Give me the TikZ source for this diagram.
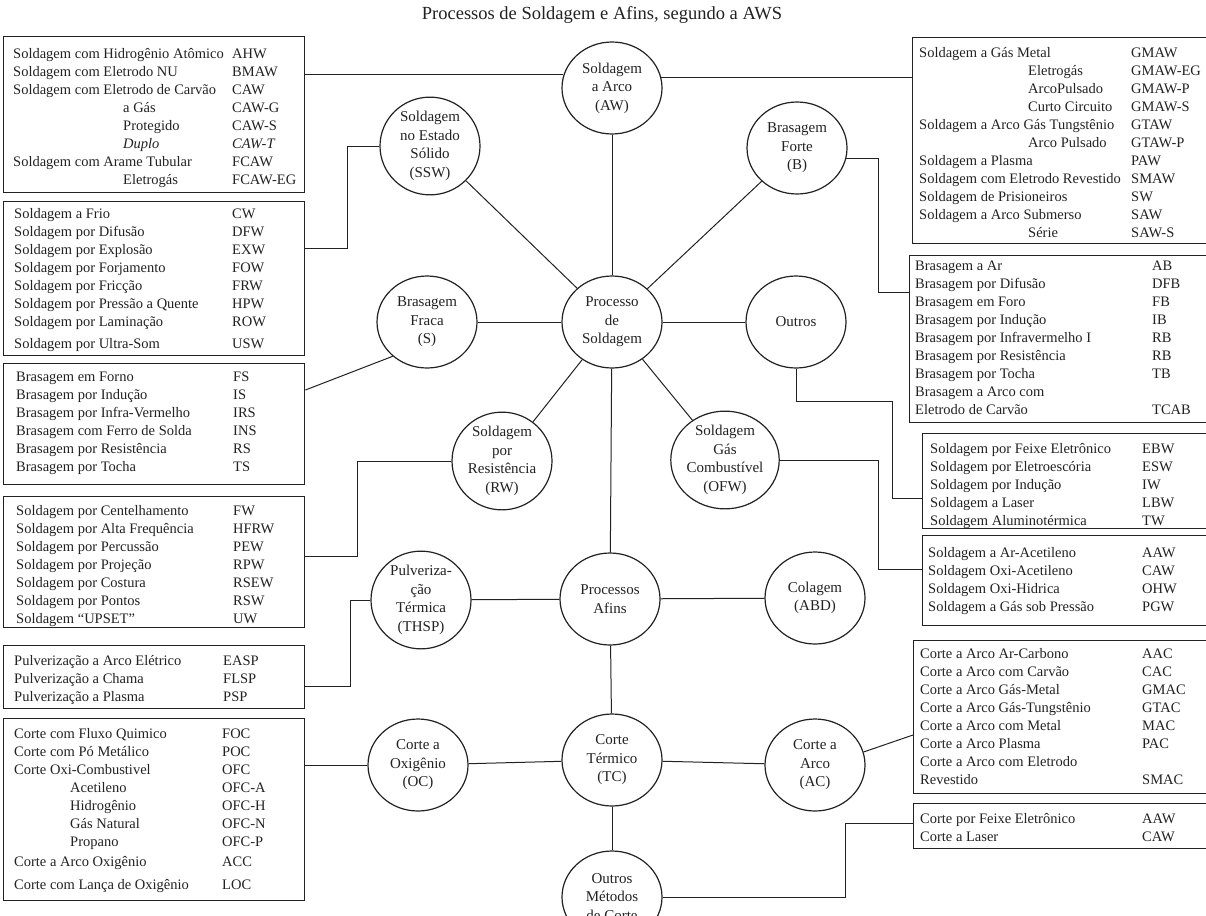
\documentclass[tikz,border=0pt]{standalone}
\usepackage{fontspec}
\setmainfont{Liberation Serif}
\usetikzlibrary{shapes.geometric}
\definecolor{ink}{HTML}{222222}
\newcommand\boxfont{\fontsize{14.5}{18}\selectfont}
\newcommand\circfont{\fontsize{15}{18.5}\selectfont}
\newcommand\ent[3]{\strut\makebox[#1pt][l]{#2}#3}
\begin{document}
\begin{tikzpicture}[x=1pt,y=-1pt,
  bx/.style={draw=ink, line width=1.4pt, inner sep=0pt, anchor=north west},
  tx/.style={anchor=north west, inner sep=0pt, align=left, font=\boxfont, text=ink},
  circ/.style={ellipse, draw=ink, line width=1.2pt, minimum width=100pt, minimum height=92pt, inner sep=0pt, align=center, font=\circfont, text=ink},
  ln/.style={draw=ink, line width=1pt}]
\useasboundingbox (0,0) rectangle (1206,915);
\fill[white] (0,0) rectangle (1206,915);

\node[font=\fontsize{18.5}{22}\selectfont, text=ink] (title) at (602,15) {Processos de Soldagem e Afins, segundo a AWS};

% ---------- left boxes ----------
\node[bx, minimum width=301pt, minimum height=156pt] (L1) at (3,36) {};
\node[tx] (L1t) at (13,45.4) {%
\ent{219}{Soldagem com Hidrogênio Atômico}{AHW}\\
\ent{219}{Soldagem com Eletrodo NU}{BMAW}\\
\ent{219}{Soldagem com Eletrodo de Carvão}{CAW}\\
\ent{219}{\hspace*{110pt}a Gás}{CAW-G}\\
\ent{219}{\hspace*{110pt}Protegido}{CAW-S}\\
\ent{219}{\hspace*{110pt}\textit{Duplo}}{\textit{CAW-T}}\\
\ent{219}{Soldagem com Arame Tubular}{FCAW}\\
\ent{219}{\hspace*{110pt}Eletrogás}{FCAW-EG}};

\node[bx, minimum width=301pt, minimum height=154pt] (L2) at (3,201) {};
\node[tx] (L2t) at (14,205.4) {%
\ent{218}{Soldagem a Frio}{CW}\\
\ent{218}{Soldagem por Difusão}{DFW}\\
\ent{218}{Soldagem por Explosão}{EXW}\\
\ent{218}{Soldagem por Forjamento}{FOW}\\
\ent{218}{Soldagem por Fricção}{FRW}\\
\ent{218}{Soldagem por Pressão a Quente}{HPW}\\
\ent{218}{Soldagem por Laminação}{ROW}\\[4pt]
\ent{218}{Soldagem por Ultra-Som}{USW}};

\node[bx, minimum width=301pt, minimum height=121pt] (L3) at (3,363) {};
\node[tx] (L3t) at (16,368.4) {%
\ent{217}{Brasagem em Forno}{FS}\\
\ent{217}{Brasagem por Indução}{IS}\\
\ent{217}{Brasagem por Infra-Vermelho}{IRS}\\
\ent{217}{Brasagem com Ferro de Solda}{INS}\\
\ent{217}{Brasagem por Resistência}{RS}\\
\ent{217}{Brasagem por Tocha}{TS}};

\node[bx, minimum width=301pt, minimum height=131pt] (L4) at (3,496) {};
\node[tx] (L4t) at (16,502.4) {%
\ent{217}{Soldagem por Centelhamento}{FW}\\
\ent{217}{Soldagem por Alta Frequência}{HFRW}\\
\ent{217}{Soldagem por Percussão}{PEW}\\
\ent{217}{Soldagem por Projeção}{RPW}\\
\ent{217}{Soldagem por Costura}{RSEW}\\
\ent{217}{Soldagem por Pontos}{RSW}\\
\ent{217}{Soldagem “UPSET”}{UW}};

\node[bx, minimum width=301pt, minimum height=63pt] (L5) at (3,645) {};
\node[tx] (L5t) at (14,652.4) {%
\ent{209}{Pulverização a Arco Elétrico}{EASP}\\
\ent{209}{Pulverização a Chama}{FLSP}\\
\ent{209}{Pulverização a Plasma}{PSP}};

\node[bx, minimum width=301pt, minimum height=182pt] (L6) at (3,718) {};
\node[tx] (L6t) at (14,725.4) {%
\ent{208}{Corte com Fluxo Quimico}{FOC}\\
\ent{208}{Corte com Pó Metálico}{POC}\\
\ent{208}{Corte Oxi-Combustivel}{OFC}\\
\ent{208}{\hspace*{56pt}Acetileno}{OFC-A}\\
\ent{208}{\hspace*{56pt}Hidrogênio}{OFC-H}\\
\ent{208}{\hspace*{56pt}Gás Natural}{OFC-N}\\
\ent{208}{\hspace*{56pt}Propano}{OFC-P}\\[2pt]
\ent{208}{Corte a Arco Oxigênio}{ACC}\\[5pt]
\ent{208}{Corte com Lança de Oxigênio}{LOC}};

% ---------- right boxes ----------
\node[bx, minimum width=300pt, minimum height=206pt] (R1) at (912,37) {};
\node[tx] (R1t) at (919,44.4) {%
\ent{212}{Soldagem a Gás Metal}{GMAW}\\
\ent{212}{\hspace*{109pt}Eletrogás}{GMAW-EG}\\
\ent{212}{\hspace*{109pt}ArcoPulsado}{GMAW-P}\\
\ent{212}{\hspace*{109pt}Curto Circuito}{GMAW-S}\\
\ent{212}{Soldagem a Arco Gás Tungstênio}{GTAW}\\
\ent{212}{\hspace*{109pt}Arco Pulsado}{GTAW-P}\\
\ent{212}{Soldagem a Plasma}{PAW}\\
\ent{212}{Soldagem com Eletrodo Revestido}{SMAW}\\
\ent{212}{Soldagem de Prisioneiros}{SW}\\
\ent{212}{Soldagem a Arco Submerso}{SAW}\\
\ent{212}{\hspace*{109pt}Série}{SAW-S}};

\node[bx, minimum width=300pt, minimum height=167pt] (R2) at (909,255) {};
\node[tx] (R2t) at (915,257.4) {%
\ent{237}{Brasagem a Ar}{AB}\\
\ent{237}{Brasagem por Difusão}{DFB}\\
\ent{237}{Brasagem em Foro}{FB}\\
\ent{237}{Brasagem por Indução}{IB}\\
\ent{237}{Brasagem por Infravermelho I}{RB}\\
\ent{237}{Brasagem por Resistência}{RB}\\
\ent{237}{Brasagem por Tocha}{TB}\\
\ent{237}{Brasagem a Arco com}{}\\
\ent{237}{Eletrodo de Carvão}{TCAB}};

\node[bx, minimum width=290pt, minimum height=95pt] (R3) at (922,433) {};
\node[tx] (R3t) at (930,440.4) {%
\ent{212}{Soldagem por Feixe Eletrônico}{EBW}\\
\ent{212}{Soldagem por Eletroescória}{ESW}\\
\ent{212}{Soldagem por Indução}{IW}\\
\ent{212}{Soldagem a Laser}{LBW}\\
\ent{212}{Soldagem Aluminotérmica}{TW}};

\node[bx, minimum width=290pt, minimum height=90pt] (R4) at (922,535) {};
\node[tx] (R4t) at (928,544.4) {%
\ent{214}{Soldagem a Ar-Acetileno}{AAW}\\
\ent{214}{Soldagem Oxi-Acetileno}{CAW}\\
\ent{214}{Soldagem Oxi-Hidrica}{OHW}\\
\ent{214}{Soldagem a Gás sob Pressão}{PGW}};

\node[bx, minimum width=300pt, minimum height=153pt] (R5) at (913,640) {};
\node[tx] (R5t) at (920,645.4) {%
\ent{222}{Corte a Arco Ar-Carbono}{AAC}\\
\ent{222}{Corte a Arco com Carvão}{CAC}\\
\ent{222}{Corte a Arco Gás-Metal}{GMAC}\\
\ent{222}{Corte a Arco Gás-Tungstênio}{GTAC}\\
\ent{222}{Corte a Arco com Metal}{MAC}\\
\ent{222}{Corte a Arco Plasma}{PAC}\\
\ent{222}{Corte a Arco com Eletrodo}{}\\
\ent{222}{Revestido}{SMAC}};

\node[bx, minimum width=300pt, minimum height=45pt] (R6) at (913,803) {};
\node[tx] (R6t) at (920,810.4) {%
\ent{222}{Corte por Feixe Eletrônico}{AAW}\\
\ent{222}{Corte a Laser}{CAW}};

% ---------- circles ----------
\node[circ] (AW) at (612,88) {Soldagem\\a Arco\\(AW)};
\node[circ] (SSW) at (430,146) {Soldagem\\no Estado\\Sólido\\(SSW)};
\node[circ] (B) at (797,148) {Brasagem\\Forte\\(B)};
\node[circ] (P) at (612,322) {Processo\\de\\Soldagem};
\node[circ] (S) at (427,322) {Brasagem\\Fraca\\(S)};
\node[circ] (OU) at (796,322) {Outros};
\node[circ] (RW) at (502,461) {Soldagem\\por\\Resistência\\(RW)};
\node[circ] (OFW) at (725,460) {Soldagem\\Gás\\Combustível\\(OFW)};
\node[circ] (TH) at (421,600) {Pulveriza-\\ção\\Térmica\\(THSP)};
\node[circ] (AF) at (610,599) {Processos\\Afins};
\node[circ] (ABD) at (815,598) {Colagem\\(ABD)};
\node[circ] (OC) at (418,765) {Corte a\\Oxigênio\\(OC)};
\node[circ] (TC) at (612,760) {Corte\\Térmico\\(TC)};
\node[circ] (AC) at (815,765) {Corte a\\Arco\\(AC)};
\node[circ] (OM) at (612,897) {Outros\\Métodos\\de Corte};

% ---------- helper coordinates ----------
\coordinate (kSSW) at (347,248);
\coordinate (kB) at (878,292);
\coordinate (kS) at (0,390);
\coordinate (kRW) at (357,556);
\coordinate (kOFW) at (878,569);
\coordinate (kO1) at (892,401);
\coordinate (kO2) at (892,498);
\coordinate (kTH) at (350,686);
\coordinate (kAC) at (0,735);
\coordinate (kOM) at (845,823);

% ---------- spokes ----------
\draw[ln] (AW) -- (P);
\draw[ln] (SSW) -- (P);
\draw[ln] (B) -- (P);
\draw[ln] (S) -- (P);
\draw[ln] (P) -- (OU);
\draw[ln] (P) -- (RW);
\draw[ln] (P) -- (OFW);
\draw[ln] (P) -- (AF);
\draw[ln] (TH) -- (AF);
\draw[ln] (AF) -- (ABD);
\draw[ln] (AF) -- (TC);
\draw[ln] (OC) -- (TC);
\draw[ln] (TC) -- (AC);
\draw[ln] (TC) -- (OM);

% ---------- connectors to boxes ----------
\draw[ln] (AW.165) -- (AW.165 -| L1.east);
\draw[ln] (AW.12) -- (AW.12 -| R1.west);
\draw[ln] (SSW.west) -| (kSSW) -- (kSSW -| L2.east);
\draw[ln] (B.-12) -| (kB) -- (kB -| R2.west);
\draw[ln] (S.225) -- (L3.east |- kS);
\draw[ln] (OU.south) |- (kO1) -- (kO2) -- (kO2 -| R3.west);
\draw[ln] (RW.west) -| (kRW) -- (kRW -| L4.east);
\draw[ln] (OFW.east) -| (kOFW) -- (kOFW -| R4.west);
\draw[ln] (TH.west) -| (kTH) -- (kTH -| L5.east);
\draw[ln] (OC.west) -- (OC.west -| L6.east);
\draw[ln] (AC.15) -- (R5.west |- kAC);
\draw[ln] (OM.east) -| (kOM) -- (kOM -| R6.west);
\end{tikzpicture}
\end{document}
